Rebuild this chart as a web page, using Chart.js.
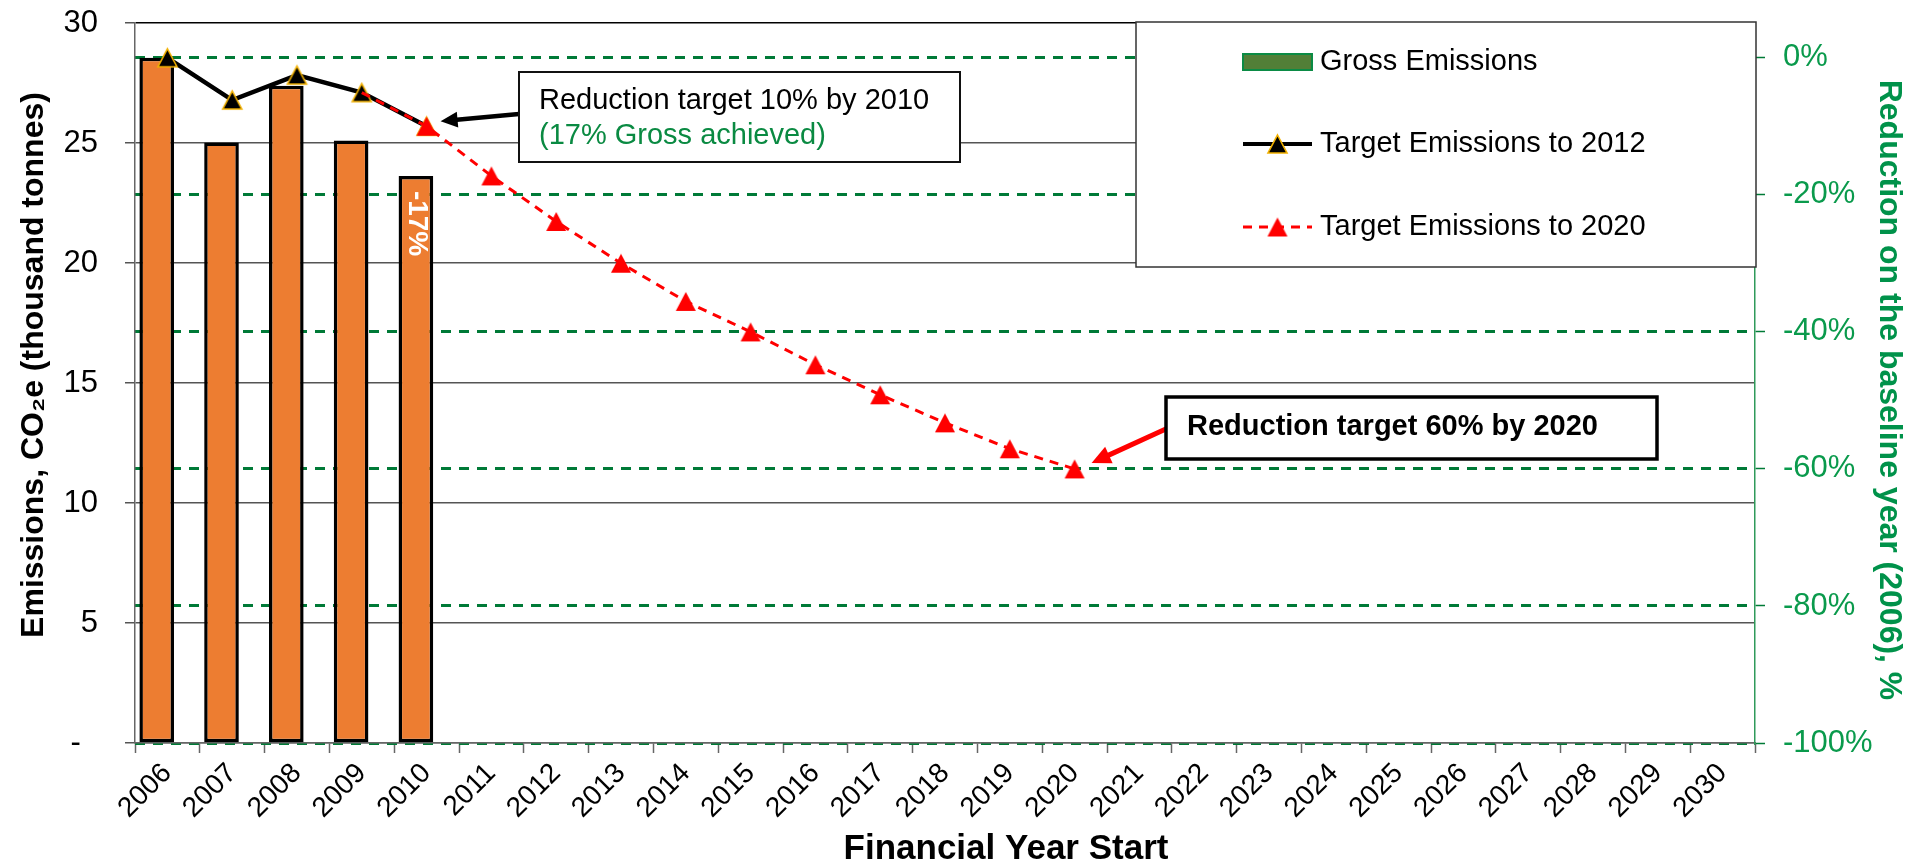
<!DOCTYPE html>
<html>
<head>
<meta charset="utf-8">
<script src="https://cdn.jsdelivr.net/npm/chart.js@4.4.1/dist/chart.umd.min.js"></script>
<style>
  html, body { margin: 0; padding: 0; background: #ffffff; }
  #wrap { width: 1909px; height: 864px; position: relative; }
</style>
</head>
<body>
<div id="wrap"><canvas id="c" width="1909" height="864"></canvas></div>
<script>
// ---- data -------------------------------------------------------------
const years = ['2006','2007','2008','2009','2010','2011','2012','2013','2014','2015',
  '2016','2017','2018','2019','2020','2021','2022','2023','2024','2025',
  '2026','2027','2028','2029','2030'];

// thousand tonnes CO2e
const grossEmissions = [28.55, 25.02, 27.39, 25.10, 23.63];
const target2012     = [28.55, 26.79, 27.83, 27.10, 25.70];
const target2020     = [null, null, null, 27.10, 25.70, 23.63, 21.73, 19.99, 18.40,
                        17.13, 15.76, 14.51, 13.34, 12.26, 11.42];

const leftTicks  = [0, 5, 10, 15, 20, 25, 30];
const rightTicks = [-100, -80, -60, -40, -20, 0];

const baselineValue = grossEmissions[0];          // 2006 baseline
const leftMax = 30;
const rightMax = (leftMax / baselineValue - 1) * 100;

// ---- styling ----------------------------------------------------------
const FONT = "'Liberation Sans', Arial, sans-serif";
const GREEN_LINE = '#007a37';
const GREEN_TEXT = '#0a9a4c';
const GREEN_TITLE = '#00924a';
const ORANGE = '#ED7D31';

Chart.defaults.font.family = FONT;
Chart.defaults.color = '#000';

// triangle markers centred on their bounding box
function triangleMarker(fill, stroke, w, h) {
  const c = document.createElement('canvas');
  c.width = w + 4; c.height = h + 4;
  const g = c.getContext('2d');
  g.beginPath();
  g.moveTo(c.width / 2, 2);
  g.lineTo(w + 2, h + 2);
  g.lineTo(2, h + 2);
  g.closePath();
  g.fillStyle = fill;
  g.fill();
  if (stroke) { g.lineWidth = 1.6; g.strokeStyle = stroke; g.stroke(); }
  return c;
}
const blackMarker = triangleMarker('#000000', '#F2B100', 19, 18);
const redMarker   = triangleMarker('#FF0000', null, 20, 19);

const firstRedIndex = target2020.findIndex(v => v !== null);

// ---- helpers for the drawn overlays ------------------------------------
function arrow(ctx, x1, y1, x2, y2, color, width, headLen, headHalf) {
  const ang = Math.atan2(y2 - y1, x2 - x1);
  const bx = x2 - Math.cos(ang) * headLen * 0.8;
  const by = y2 - Math.sin(ang) * headLen * 0.8;
  ctx.save();
  ctx.strokeStyle = color;
  ctx.fillStyle = color;
  ctx.lineWidth = width;
  ctx.setLineDash([]);
  ctx.beginPath();
  ctx.moveTo(x1, y1);
  ctx.lineTo(bx, by);
  ctx.stroke();
  ctx.beginPath();
  ctx.moveTo(x2, y2);
  ctx.lineTo(x2 - Math.cos(ang) * headLen + Math.sin(ang) * headHalf,
             y2 - Math.sin(ang) * headLen - Math.cos(ang) * headHalf);
  ctx.lineTo(x2 - Math.cos(ang) * headLen - Math.sin(ang) * headHalf,
             y2 - Math.sin(ang) * headLen + Math.cos(ang) * headHalf);
  ctx.closePath();
  ctx.fill();
  ctx.restore();
}

function rotatedText(ctx, text, x, y, angle, font, color) {
  ctx.save();
  ctx.translate(x, y);
  ctx.rotate(angle);
  ctx.font = font;
  ctx.fillStyle = color;
  ctx.textAlign = 'center';
  ctx.textBaseline = 'middle';
  ctx.fillText(text, 0, 0);
  ctx.restore();
}

const overlays = {
  id: 'overlays',
  afterDraw(chart) {
    const ctx = chart.ctx;
    const xs = chart.scales.x, ys = chart.scales.y;

    // value label inside the latest bar
    const barMeta = chart.getDatasetMeta(2);
    const last = grossEmissions.length - 1;
    const bar = barMeta.data[last];
    const pct = Math.round((grossEmissions[last] / baselineValue - 1) * 100) + '%';
    ctx.save();
    ctx.translate(bar.x + 1, bar.y + 15);
    ctx.rotate(Math.PI / 2);
    ctx.fillStyle = '#ffffff';
    ctx.font = 'bold 28px ' + FONT;
    ctx.textAlign = 'left';
    ctx.textBaseline = 'middle';
    ctx.fillText(pct, 0, 0);
    ctx.restore();

    // callout: 2010 target
    const p2010 = { x: xs.getPixelForValue(4), y: ys.getPixelForValue(target2012[4]) };
    const b1 = { x: 519, y: 72, w: 441, h: 90 };
    arrow(ctx, b1.x, b1.y + 42, p2010.x + 14, p2010.y - 5, '#000', 4.5, 17, 8);
    ctx.save();
    ctx.fillStyle = '#fff';
    ctx.fillRect(b1.x, b1.y, b1.w, b1.h);
    ctx.strokeStyle = '#111';
    ctx.lineWidth = 2;
    ctx.strokeRect(b1.x, b1.y, b1.w, b1.h);
    ctx.textAlign = 'left';
    ctx.textBaseline = 'middle';
    ctx.font = '29px ' + FONT;
    ctx.fillStyle = '#000';
    ctx.fillText('Reduction target 10% by 2010', b1.x + 20, b1.y + 29);
    ctx.fillStyle = '#0a8a42';
    ctx.fillText('(17% Gross achieved)', b1.x + 20, b1.y + 64);
    ctx.restore();

    // callout: 2020 target
    const i2020 = target2020.length - 1;
    const p2020 = { x: xs.getPixelForValue(i2020), y: ys.getPixelForValue(target2020[i2020]) };
    const b2 = { x: 1166, y: 397, w: 491, h: 62 };
    arrow(ctx, b2.x + 2, b2.y + 31, p2020.x + 17, p2020.y - 6, '#FF0000', 5, 19, 9);
    ctx.save();
    ctx.fillStyle = '#fff';
    ctx.fillRect(b2.x, b2.y, b2.w, b2.h);
    ctx.strokeStyle = '#000';
    ctx.lineWidth = 3.5;
    ctx.strokeRect(b2.x, b2.y, b2.w, b2.h);
    ctx.textAlign = 'left';
    ctx.textBaseline = 'middle';
    ctx.font = 'bold 29px ' + FONT;
    ctx.fillStyle = '#000';
    ctx.fillText('Reduction target 60% by 2020', b2.x + 21, b2.y + 30);
    ctx.restore();

    // legend box
    const lg = { x: 1136, y: 22, w: 620, h: 245 };
    ctx.save();
    ctx.fillStyle = '#fff';
    ctx.fillRect(lg.x, lg.y, lg.w, lg.h);
    ctx.strokeStyle = '#333';
    ctx.lineWidth = 1.5;
    ctx.strokeRect(lg.x, lg.y, lg.w, lg.h);
    const sx = 1243, sw = 69, tx = 1320;
    const rows = [62, 144, 227];
    // Gross Emissions swatch
    ctx.fillStyle = '#527f37';
    ctx.fillRect(sx, rows[0] - 8, sw, 16);
    ctx.strokeStyle = '#0b8b45';
    ctx.lineWidth = 2;
    ctx.strokeRect(sx, rows[0] - 8, sw, 16);
    // Target to 2012
    ctx.strokeStyle = '#000';
    ctx.lineWidth = 4;
    ctx.beginPath(); ctx.moveTo(sx, rows[1]); ctx.lineTo(sx + sw, rows[1]); ctx.stroke();
    ctx.drawImage(blackMarker, sx + sw / 2 - blackMarker.width / 2, rows[1] - blackMarker.height / 2);
    // Target to 2020
    ctx.strokeStyle = '#FF0000';
    ctx.lineWidth = 3;
    ctx.setLineDash([9, 7]);
    ctx.beginPath(); ctx.moveTo(sx, rows[2]); ctx.lineTo(sx + sw, rows[2]); ctx.stroke();
    ctx.setLineDash([]);
    ctx.drawImage(redMarker, sx + sw / 2 - redMarker.width / 2, rows[2] - redMarker.height / 2);
    ctx.fillStyle = '#000';
    ctx.font = '29px ' + FONT;
    ctx.textAlign = 'left';
    ctx.textBaseline = 'middle';
    ctx.fillText('Gross Emissions', tx, rows[0]);
    ctx.fillText('Target Emissions to 2012', tx, rows[1]);
    ctx.fillText('Target Emissions to 2020', tx, rows[2]);
    ctx.restore();

    // axis titles
    rotatedText(ctx, 'Emissions, CO\u2082e (thousand tonnes)', 34, 365, -Math.PI / 2,
                'bold 32px ' + FONT, '#000');
    rotatedText(ctx, 'Reduction on the baseline year (2006), %', 1889, 390, Math.PI / 2,
                'bold 32px ' + FONT, GREEN_TITLE);
    rotatedText(ctx, 'Financial Year Start', 1006, 849, 0, 'bold 35px ' + FONT, '#000');
  }
};

new Chart(document.getElementById('c'), {
  data: {
    labels: years,
    datasets: [
      {
        type: 'line', label: 'Target Emissions to 2020', data: target2020, order: 1,
        borderColor: '#FF0000', borderWidth: 3, borderDash: [9, 7],
        pointStyle: redMarker,
        pointRadius: ctx => (ctx.dataIndex === firstRedIndex ? 0 : 10),
        pointHoverRadius: 10, tension: 0, spanGaps: false
      },
      {
        type: 'line', label: 'Target Emissions to 2012', data: target2012, order: 2,
        borderColor: '#000000', borderWidth: 4.5,
        pointStyle: blackMarker, pointRadius: 10, pointHoverRadius: 10, tension: 0
      },
      {
        type: 'bar', label: 'Gross Emissions', data: grossEmissions, order: 3,
        backgroundColor: ORANGE, borderColor: '#000', borderWidth: 3.5, borderSkipped: false,
        categoryPercentage: 0.66, barPercentage: 1.62
      },
      {
        type: 'bar', label: 'Net', data: years.map(() => 0), order: 4,
        backgroundColor: 'rgba(0,0,0,0)', borderWidth: 0,
        categoryPercentage: 0.66, barPercentage: 1.62
      }
    ]
  },
  options: {
    responsive: false,
    animation: false,
    devicePixelRatio: 1,
    layout: { padding: { top: 23, left: 0, right: 0, bottom: 0 } },
    plugins: { legend: { display: false }, tooltip: { enabled: false } },
    scales: {
      x: {
        type: 'category', offset: true,
        grid: { offset: true, drawOnChartArea: false, drawTicks: true, tickLength: 10,
                color: '#666', tickColor: '#666', tickWidth: 1.5 },
        border: { display: true, color: '#666', width: 1.5 },
        ticks: { autoSkip: false, maxRotation: 45, minRotation: 45, color: '#000',
                 font: { size: 28 }, padding: 4 },
        afterFit: s => { s.height = 121; }
      },
      y: {
        position: 'left', min: 0, max: leftMax,
        afterBuildTicks: s => { s.ticks = leftTicks.map(v => ({ value: v })); },
        grid: { color: c => (c.tick && c.tick.value === leftMax ? '#000' : '#555'),
                lineWidth: 1.5, tickLength: 10, tickColor: '#555', tickWidth: 1.5 },
        border: { color: '#666', width: 1.5 },
        ticks: { font: { size: 31 }, color: '#000', padding: 27,
                 callback: v => (v === 0 ? '-  ' : String(v)) },
        afterFit: s => { s.width = 135; s.paddingTop = 0; s.paddingBottom = 0; }
      },
      y2: {
        position: 'right', min: -100, max: rightMax,
        afterBuildTicks: s => { s.ticks = rightTicks.map(v => ({ value: v })); },
        grid: { color: GREEN_LINE, lineWidth: 3, tickLength: 10, tickColor: GREEN_LINE,
                tickWidth: 1.5, tickBorderDash: [] },
        border: { color: '#2f9a5a', width: 1.5, dash: [10, 8] },
        ticks: { font: { size: 31 }, color: GREEN_TEXT, padding: 18,
                 callback: v => v + '%' },
        afterFit: s => { s.width = 154; s.paddingTop = 0; s.paddingBottom = 0; }
      }
    }
  },
  plugins: [overlays]
});
</script>
</body>
</html>
